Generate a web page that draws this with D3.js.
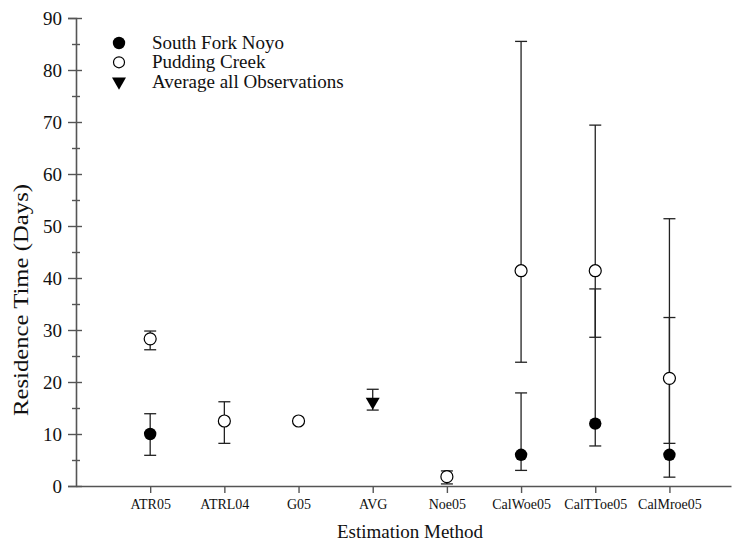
<!DOCTYPE html>
<html lang="en">
<head>
    <meta charset="utf-8">
    <script src="https://d3js.org/d3.v7.min.js"></script>
    <style>
        body { margin: 0; background: white; }
        svg { display: block; }
        svg text { font-family: "Liberation Serif", "Times New Roman", serif; }
        .axis path, .axis line { stroke: #555; }
    </style>
</head>
<body>
<div id="chart"></div>
<script>
    // categories along the x axis
    var categories = ["ATR05", "ATRL04", "G05", "AVG", "Noe05", "CalWoe05", "CalTToe05", "CalMroe05"];

    // South Fork Noyo (filled circles)
    var sfValue = [10, null, null, null, null, 6, 12, 6];
    var sfLow   = [5.9, null, null, null, null, 3.0, 7.7, 1.7];
    var sfHigh  = [13.9, null, null, null, null, 17.9, 37.9, 32.4];

    // Pudding Creek (open circles)
    var pcValue = [28.3, 12.5, 12.5, null, 1.8, 41.4, 41.4, 20.7];
    var pcLow   = [26.2, 8.2, null, null, 0.4, 23.8, 28.6, 8.2];
    var pcHigh  = [29.8, 16.2, null, null, 2.9, 85.5, 69.4, 51.4];

    // Average all observations (triangle)
    var avgValue = [null, null, null, 16.2, null, null, null, null];
    var avgLow   = [null, null, null, 14.6, null, null, null, null];
    var avgHigh  = [null, null, null, 18.6, null, null, null, null];

    var yMajor = [0, 10, 20, 30, 40, 50, 60, 70, 80, 90];
    var yMinor = [5, 15, 25, 35, 45, 55, 65, 75, 85];

    var serif = "'Liberation Serif', 'Times New Roman', serif";
    var width = 732, height = 546;
    var svg = d3.select("#chart").append("svg")
        .attr("width", width)
        .attr("height", height);

    // x positions: category i sits at i+1
    var x = d3.scaleLinear().domain([0, 8.83]).range([76, 731]);
    var y = d3.scaleLinear().domain([0, 90]).range([486, 18]);

    // build series rows
    function rows(vals, lo, hi) {
        var out = [];
        vals.forEach(function (v, i) {
            if (v != null) out.push({ i: i + 1, v: v, lo: lo[i], hi: hi[i] });
        });
        return out;
    }
    var sf = rows(sfValue, sfLow, sfHigh);
    var pc = rows(pcValue, pcLow, pcHigh);
    var av = rows(avgValue, avgLow, avgHigh);

    // y axis: major and minor ticks cross the axis line
    var yg = svg.append("g").attr("class", "axis").attr("transform", "translate(" + x(0) + ",0)");
    yg.call(d3.axisLeft(y).tickValues(yMajor).tickSize(8).tickPadding(6).tickFormat(d3.format("d")));
    yg.attr("font-family", serif);
    yg.select(".domain").attr("stroke-width", 1.6);
    yg.selectAll(".tick line").attr("stroke-width", 1.4);
    yg.selectAll("text").attr("font-family", serif).style("font-size", "19px").attr("fill", "#111");

    var yIn = svg.append("g").attr("class", "axis").attr("transform", "translate(" + x(0) + ",0)")
        .call(d3.axisRight(y).tickValues(yMajor).tickSize(6).tickFormat(""));
    yIn.select(".domain").remove();
    yIn.selectAll(".tick line").attr("stroke-width", 1.4);

    var yMinL = svg.append("g").attr("class", "axis").attr("transform", "translate(" + x(0) + ",0)")
        .call(d3.axisLeft(y).tickValues(yMinor).tickSize(4).tickFormat(""));
    yMinL.select(".domain").remove();
    yMinL.selectAll(".tick line").attr("stroke-width", 1.4);
    var yMinR = svg.append("g").attr("class", "axis").attr("transform", "translate(" + x(0) + ",0)")
        .call(d3.axisRight(y).tickValues(yMinor).tickSize(4).tickFormat(""));
    yMinR.select(".domain").remove();
    yMinR.selectAll(".tick line").attr("stroke-width", 1.4);

    // x axis
    var xg = svg.append("g").attr("class", "axis").attr("transform", "translate(0," + y(0) + ")");
    xg.call(d3.axisBottom(x)
        .tickValues(categories.map(function (c, i) { return i + 1; }))
        .tickSize(7).tickSizeOuter(0).tickPadding(6)
        .tickFormat(function (d) { return categories[d - 1]; }));
    xg.attr("font-family", serif);
    xg.select(".domain").attr("stroke-width", 1.6);
    xg.selectAll(".tick line").attr("stroke-width", 1.4);
    xg.selectAll("text").attr("font-family", serif).style("font-size", "14px").attr("fill", "#111");

    // axis titles
    svg.append("text")
        .attr("x", 410)
        .attr("y", 538)
        .attr("text-anchor", "middle")
        .style("font-size", "19px")
        .attr("fill", "#111")
        .text("Estimation Method");

    svg.append("text")
        .attr("transform", "translate(28,300) rotate(-90)")
        .attr("text-anchor", "middle")
        .attr("textLength", 232)
        .attr("lengthAdjust", "spacingAndGlyphs")
        .style("font-size", "20px")
        .attr("fill", "#111")
        .text("Residence Time (Days)");

    // error bars
    function errorBars(data) {
        var g = svg.append("g").attr("stroke", "#222").attr("stroke-width", 1.3);
        data.filter(function (d) { return d.lo != null; }).forEach(function (d) {
            g.append("line")
                .attr("x1", x(d.i)).attr("x2", x(d.i))
                .attr("y1", y(d.lo)).attr("y2", y(d.hi));
            [d.lo, d.hi].forEach(function (e) {
                g.append("line")
                    .attr("x1", x(d.i) - 6).attr("x2", x(d.i) + 6)
                    .attr("y1", y(e)).attr("y2", y(e));
            });
        });
    }
    errorBars(pc);
    errorBars(sf);
    errorBars(av);

    // markers
    svg.append("g").selectAll("circle").data(sf).join("circle")
        .attr("cx", function (d) { return x(d.i); })
        .attr("cy", function (d) { return y(d.v); })
        .attr("r", 6.2)
        .attr("fill", "black");

    svg.append("g").selectAll("circle").data(pc).join("circle")
        .attr("cx", function (d) { return x(d.i); })
        .attr("cy", function (d) { return y(d.v); })
        .attr("r", 6)
        .attr("fill", "white")
        .attr("stroke", "black")
        .attr("stroke-width", 1.2);

    var tri = d3.symbol().type(d3.symbolTriangle).size(85);
    svg.append("g").selectAll("path").data(av).join("path")
        .attr("transform", function (d) { return "translate(" + x(d.i) + "," + y(d.v) + ") rotate(180)"; })
        .attr("d", tri)
        .attr("fill", "black");

    // legend
    var legend = [
        { label: "South Fork Noyo", type: "filled" },
        { label: "Pudding Creek", type: "open" },
        { label: "Average all Observations", type: "tri" }
    ];
    var lg = svg.append("g").attr("transform", "translate(119,43)");
    legend.forEach(function (d, k) {
        var row = lg.append("g").attr("transform", "translate(0," + (k * 19.3) + ")");
        if (d.type === "filled") {
            row.append("circle").attr("r", 6.2).attr("fill", "black");
        } else if (d.type === "open") {
            row.append("circle").attr("r", 5.5).attr("fill", "white").attr("stroke", "black").attr("stroke-width", 1.2);
        } else {
            row.append("path").attr("d", tri).attr("transform", "rotate(180)").attr("fill", "black");
        }
        row.append("text")
            .attr("x", 33)
            .attr("y", 6)
            .style("font-size", "19px")
            .attr("fill", "#111")
            .text(d.label);
    });
</script>
</body>
</html>
